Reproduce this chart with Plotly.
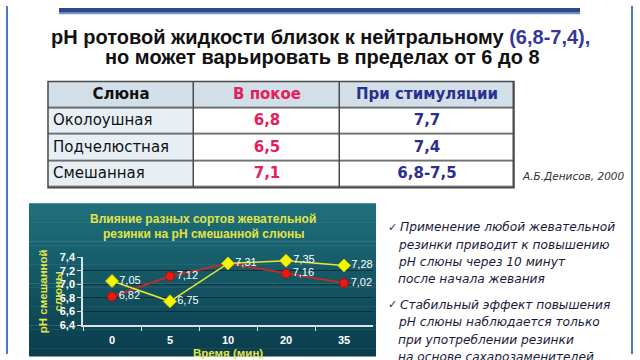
import plotly.graph_objects as go

W, H = 640, 360

# ---------------- data ----------------
title_line1 = "pH ротовой жидкости близок к нейтральному "
title_paren = "(6,8-7,4),"
title_line2 = "но может варьировать в пределах от 6 до 8"

table_header = ["Слюна", "В покое", "При стимуляции"]
saliva_types = ["Околоушная", "Подчелюстная", "Смешанная"]
ph_rest = ["6,8", "6,5", "7,1"]
ph_stim = ["7,7", "7,4", "6,8-7,5"]
source_note = "А.Б.Денисов, 2000"

chart_title = ["Влияние разных сортов жевательной", "резинки на pH смешанной слюны"]
y_title = "pH смешанной<br>слюны"
x_title = "Время (мин)"
time_min = ["0", "5", "10", "20", "35"]
ph_red = [6.82, 7.12, 7.31, 7.16, 7.02]
ph_yellow = [7.05, 6.75, 7.31, 7.35, 7.28]
y_ticks = [6.4, 6.6, 6.8, 7.0, 7.2, 7.4]

bullets = [
    ["Применение любой жевательной", "резинки приводит к повышению",
     "pH слюны через 10 минут", "после начала жевания"],
    ["Стабильный эффект повышения", "pH слюны наблюдается только",
     "при употреблении резинки", "на основе сахарозаменителей"],
]


def px(x):
    return x / W


def py(y):
    return 1 - y / H


fig = go.Figure()

# ---------------- table (heatmap cells + text on its own axes) ----------------
col_edges = [0, 146, 292, 466]
row_edges = [0, 28, 55.3, 82.7, 110]
n_rows = len(saliva_types) + 1
z = [[0, 0, 0]] + [[1, 2, 2] for _ in saliva_types]
fig.add_trace(go.Heatmap(
    x=col_edges, y=row_edges, z=z, xaxis="x2", yaxis="y2",
    zmin=0, zmax=2, showscale=False, hoverinfo="skip",
    colorscale=[[0, "#d3dfe8"], [0.5, "#e7eff5"], [1, "#ffffff"]],
    xgap=1.5, ygap=1.5,
))
col_mid = [(col_edges[i] + col_edges[i + 1]) / 2 for i in range(3)]
row_mid = [(row_edges[i] + row_edges[i + 1]) / 2 for i in range(n_rows)]
col_colors = ["#111111", "#e3205a", "#2b2f8f"]
columns = [saliva_types, ph_rest, ph_stim]
for c in range(3):
    head = "<b>%s</b>" % table_header[c]
    body = columns[c] if c == 0 else ["<b>%s</b>" % v for v in columns[c]]
    xs = [col_mid[c]] + ([col_edges[0] + 5] * 3 if c == 0 else [col_mid[c]] * 3)
    pos = ["middle center"] + (["middle right"] * 3 if c == 0 else ["middle center"] * 3)
    fig.add_trace(go.Scatter(
        x=xs, y=row_mid, text=[head] + body, mode="text",
        textposition=pos, xaxis="x2", yaxis="y2",
        textfont=dict(family="DejaVu Sans", size=15, color=col_colors[c]),
        hoverinfo="skip", showlegend=False, cliponaxis=False,
    ))

# ---------------- chart ----------------
red_text = ["" if r == y else ("%.2f" % r).replace(".", ",")
            for r, y in zip(ph_red, ph_yellow)]
yel_text = [("%.2f" % v).replace(".", ",") for v in ph_yellow]

fig.add_trace(go.Scatter(
    x=time_min, y=ph_red, mode="lines+markers+text",
    line=dict(color="#b8302a", width=2),
    marker=dict(symbol="circle", size=9, color="#ea1a10",
                line=dict(color="#a01010", width=1)),
    text=red_text, textposition="middle right",
    textfont=dict(family="Liberation Sans", size=11, color="white"),
    cliponaxis=False, showlegend=False,
))
fig.add_trace(go.Scatter(
    x=time_min, y=ph_yellow, mode="lines+markers+text",
    line=dict(color="#e8e832", width=1.5),
    marker=dict(symbol="diamond", size=10, color="#f5f500",
                line=dict(color="#c8c800", width=1)),
    text=yel_text, textposition="middle right",
    textfont=dict(family="Liberation Sans", size=11, color="white"),
    cliponaxis=False, showlegend=False,
))

# ---------------- shapes ----------------
shapes = []
shapes.append(dict(type="rect", xref="paper", yref="paper",
                   x0=px(48), x1=px(514), y0=py(188), y1=py(78),
                   fillcolor="#4a4a4a", line=dict(width=0), layer="below"))
top, bot, n = 204, 362, 40
c0 = (0x1e, 0x70, 0x7c)
c1 = (0x0b, 0x3d, 0x4d)
for i in range(n):
    t = i / (n - 1)
    c = tuple(int(round(a + (b - a) * t)) for a, b in zip(c0, c1))
    y0 = top + (bot - top) * i / n
    y1 = top + (bot - top) * (i + 1) / n + 0.5
    shapes.append(dict(type="rect", xref="paper", yref="paper",
                       x0=px(29), x1=px(376), y0=py(y1), y1=py(y0),
                       fillcolor="rgb(%d,%d,%d)" % c, line=dict(width=0),
                       layer="below"))
shapes.append(dict(type="rect", xref="paper", yref="paper",
                   x0=px(48), x1=px(514), y0=py(188), y1=py(78),
                   fillcolor="rgba(0,0,0,0)", line=dict(color="#4a4a4a", width=1.5)))
shapes.append(dict(type="rect", xref="paper", yref="paper",
                   x0=px(59), x1=px(580), y0=py(7), y1=py(2),
                   fillcolor="#2a4a88", line=dict(width=0)))
shapes.append(dict(type="rect", xref="paper", yref="paper",
                   x0=px(59), x1=px(580), y0=py(8.5), y1=py(6.5),
                   fillcolor="#7392c4", line=dict(width=0)))
for xb in (7, 632):
    shapes.append(dict(type="line", xref="paper", yref="paper",
                       x0=px(xb), x1=px(xb), y0=0, y1=1,
                       line=dict(color="#4d78bf", width=2)))

# ---------------- annotations ----------------
ann = []
ann.append(dict(xref="paper", yref="paper", x=px(320), y=py(32),
                text="<b>%s<span style='color:#35379a'>%s</span></b>" % (title_line1, title_paren),
                showarrow=False, xanchor="center", yanchor="middle",
                font=dict(family="Liberation Sans", size=20, color="#111111")))
ann.append(dict(xref="paper", yref="paper", x=px(322), y=py(53),
                text="<b>%s</b>" % title_line2,
                showarrow=False, xanchor="center", yanchor="middle",
                font=dict(family="Liberation Sans", size=20, color="#111111")))
ann.append(dict(xref="paper", yref="paper", x=px(520), y=py(176),
                text="<i>%s</i>" % source_note, showarrow=False,
                xanchor="left", yanchor="middle",
                font=dict(family="DejaVu Sans", size=10.5, color="#333333")))
for ln, yy in zip(chart_title, [220, 235.5]):
    ann.append(dict(xref="paper", yref="paper", x=px(203), y=py(yy),
                    text="<b>%s</b>" % ln, showarrow=False,
                    xanchor="center", yanchor="middle",
                    font=dict(family="Liberation Sans", size=12, color="#e2e447")))
ann.append(dict(xref="paper", yref="paper", x=px(50), y=py(295),
                text="<b>%s</b>" % y_title, showarrow=False, textangle=-90,
                xanchor="center", yanchor="middle",
                font=dict(family="Liberation Sans", size=11.5, color="#e2e447")))
ann.append(dict(xref="paper", yref="paper", x=px(228), y=py(359),
                text="<b>%s</b>" % x_title, showarrow=False,
                xanchor="center", yanchor="middle",
                font=dict(family="Liberation Sans", size=11.5, color="#e2e447")))

line_y = [[229, 247, 265, 282.5], [309, 327, 345, 363.5]]
for b, lines in enumerate(bullets):
    ann.append(dict(xref="paper", yref="paper", x=px(386), y=py(line_y[b][0]),
                    text="✓", showarrow=False, xanchor="left", yanchor="middle",
                    font=dict(family="DejaVu Sans", size=11, color="#2a2a6a")))
    for i, ln in enumerate(lines):
        ann.append(dict(xref="paper", yref="paper",
                        x=px(398 if i == 0 else 396), y=py(line_y[b][i]),
                        text="<i>%s</i>" % ln, showarrow=False,
                        xanchor="left", yanchor="middle",
                        font=dict(family="DejaVu Sans", size=12.2, color="#1a1a3c")))

fig.update_layout(
    width=W, height=H,
    margin=dict(l=0, r=0, t=0, b=0),
    paper_bgcolor="white", plot_bgcolor="rgba(0,0,0,0)",
    separators=",.",
    shapes=shapes, annotations=ann,
    xaxis=dict(domain=[px(83), px(373)], type="category",
               categoryorder="array", categoryarray=time_min,
               range=[-0.5, 4.5], tickson="boundaries",
               ticks="outside", ticklen=4, tickcolor="#d8e4e4",
               showline=True, linecolor="#d8e4e4", linewidth=1.5,
               showgrid=False, zeroline=False, ticklabelstandoff=4,
               tickfont=dict(family="Liberation Sans", size=11,
                             color="white", weight="bold")),
    yaxis=dict(domain=[py(330), py(260)], range=[6.4, 7.4],
               tickvals=y_ticks, tickformat=".1f",
               ticks="outside", ticklen=4, tickcolor="#d8e4e4",
               showline=True, linecolor="#d8e4e4", linewidth=1.5,
               showgrid=True, gridcolor="#0a2f3a", gridwidth=1,
               zeroline=False,
               tickfont=dict(family="Liberation Sans", size=11,
                             color="white", weight="bold")),
    xaxis2=dict(domain=[px(48), px(514)], range=[0, 466], visible=False,
                fixedrange=True, anchor="y2"),
    yaxis2=dict(domain=[py(188), py(78)], range=[110, 0], visible=False,
                fixedrange=True, anchor="x2"),
)

fig.write_html("out.html")
